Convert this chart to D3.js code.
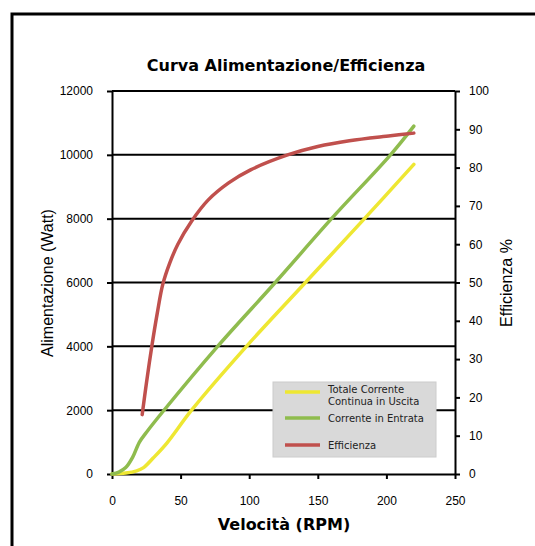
<!DOCTYPE html>
<html>
<head>
<meta charset="utf-8">
<script src="https://cdn.jsdelivr.net/npm/d3@7"></script>
<style>
    html, body { margin: 0; background: #fff; overflow: hidden; }
    svg { display: block; }
    .tick text { font-family: "Liberation Sans", Arial, sans-serif; font-size: 12px; fill: #000; }
</style>
</head>
<body>
<svg id="chart" width="535" height="546"></svg>
<script>
    // values
    const rpmOut = [0, 10, 18, 23, 30, 40, 58, 98, 141, 184, 220];
    const wattOut = [0, 30, 100, 200, 500, 970, 2000, 4000, 6000, 8000, 9700];

    const rpmIn = [0, 5, 10, 15, 20, 25, 37, 77, 119, 160, 203, 220];
    const wattIn = [0, 60, 200, 520, 1000, 1300, 1950, 4000, 6000, 8000, 10000, 10900];

    const rpmEff = [22, 25, 29, 33, 37, 42, 48, 58, 70, 85, 101, 128, 150, 173, 203, 220];
    const effPct = [15.5, 23.5, 33.3, 42, 49.5, 55, 60, 66, 71.5, 76, 79.4, 83.3, 85.5, 87, 88.3, 89];

    const xTicks = [0, 50, 100, 150, 200, 250];
    const wattTicks = [0, 2000, 4000, 6000, 8000, 10000, 12000];
    const effTicks = [0, 10, 20, 30, 40, 50, 60, 70, 80, 90, 100];

    const seriesNames = ["Totale Corrente|Continua in Uscita", "Corrente in Entrata", "Efficienza"];
    const seriesColors = ["#eee732", "#8fbc4e", "#c0504d"];

    const svg = d3.select("#chart");

    const x = d3.scaleLinear().domain([0, 250]).range([112, 455]);
    const yL = d3.scaleLinear().domain([0, 12000]).range([474, 91]);
    const yR = d3.scaleLinear().domain([0, 100]).range([474, 91]);

    // outer frame: only its left and top edges are in view
    svg.append("path")
        .attr("d", "M12,546 L12,14 L535,14")
        .attr("fill", "none").attr("stroke", "#000").attr("stroke-width", 3);

    svg.append("text")
        .attr("x", 286).attr("y", 71)
        .attr("text-anchor", "middle")
        .attr("font-family", "DejaVu Sans, Verdana, sans-serif")
        .attr("font-weight", "bold").attr("font-size", 16)
        .text("Curva Alimentazione/Efficienza");

    // horizontal grid lines
    svg.append("g").selectAll("line")
        .data(wattTicks.filter(d => d > 0))
        .join("line")
        .attr("x1", x(0)).attr("x2", x(250))
        .attr("y1", d => yL(d)).attr("y2", d => yL(d))
        .attr("stroke", "#000").attr("stroke-width", 2);

    // axes
    const gl = svg.append("g").attr("transform", `translate(${x(0)},0)`)
        .call(d3.axisLeft(yL).tickValues(wattTicks).tickFormat(d3.format("d"))
            .tickSize(5).tickPadding(14).tickSizeOuter(0));
    const gr = svg.append("g").attr("transform", `translate(${x(250)},0)`)
        .call(d3.axisRight(yR).tickValues(effTicks).tickSize(5).tickPadding(9).tickSizeOuter(0));
    const gb = svg.append("g").attr("transform", `translate(0,${yL(0)})`)
        .call(d3.axisBottom(x).tickValues(xTicks).tickSize(5).tickPadding(17).tickSizeOuter(0));

    [gl, gr, gb].forEach(g => {
        g.select(".domain").attr("stroke", "#000").attr("stroke-width", 2);
        g.selectAll(".tick line").attr("stroke", "#000").attr("stroke-width", 2);
    });

    // axis titles
    svg.append("text")
        .attr("transform", "translate(53,283) rotate(-90)")
        .attr("text-anchor", "middle")
        .attr("font-family", "Liberation Sans, Arial, sans-serif")
        .attr("font-size", 16)
        .text("Alimentazione (Watt)");

    svg.append("text")
        .attr("transform", "translate(512,283) rotate(-90)")
        .attr("text-anchor", "middle")
        .attr("font-family", "Liberation Sans, Arial, sans-serif")
        .attr("font-size", 16)
        .text("Efficienza %");

    svg.append("text")
        .attr("x", 284).attr("y", 530)
        .attr("text-anchor", "middle")
        .attr("font-family", "DejaVu Sans, Verdana, sans-serif")
        .attr("font-weight", "bold").attr("font-size", 16)
        .text("Velocità (RPM)");

    // lines
    const lineL = d3.line().x(d => x(d[0])).y(d => yL(d[1])).curve(d3.curveCatmullRom.alpha(0.5));
    const lineR = d3.line().x(d => x(d[0])).y(d => yR(d[1])).curve(d3.curveCatmullRom.alpha(0.5));

    const series = [
        { pts: d3.zip(rpmOut, wattOut), gen: lineL },
        { pts: d3.zip(rpmIn, wattIn), gen: lineL },
        { pts: d3.zip(rpmEff, effPct), gen: lineR }
    ];

    svg.append("g").selectAll("path")
        .data(series)
        .join("path")
        .attr("d", d => d.gen(d.pts))
        .attr("fill", "none")
        .attr("stroke", (d, i) => seriesColors[i])
        .attr("stroke-width", 3.5)
        .attr("stroke-linecap", "round");

    // legend
    const lg = svg.append("g");
    lg.append("rect")
        .attr("x", 273).attr("y", 382).attr("width", 163).attr("height", 75)
        .attr("fill", "#d9d9d9").attr("stroke", "#cccccc");

    const rowY = [392, 418, 445];
    seriesNames.forEach((name, i) => {
        lg.append("line")
            .attr("x1", 285).attr("x2", 320)
            .attr("y1", rowY[i]).attr("y2", rowY[i])
            .attr("stroke", seriesColors[i]).attr("stroke-width", 3.5);
        const parts = name.split("|");
        const t = lg.append("text")
            .attr("x", 328).attr("y", rowY[i] + (parts.length > 1 ? 1 : 4))
            .attr("font-family", "DejaVu Sans, Verdana, sans-serif")
            .attr("font-size", 10)
            .attr("fill", "#222");
        parts.forEach((p, j) => {
            t.append("tspan").attr("x", 328).attr("dy", j === 0 ? 0 : 11.5).text(p);
        });
    });
</script>
</body>
</html>
